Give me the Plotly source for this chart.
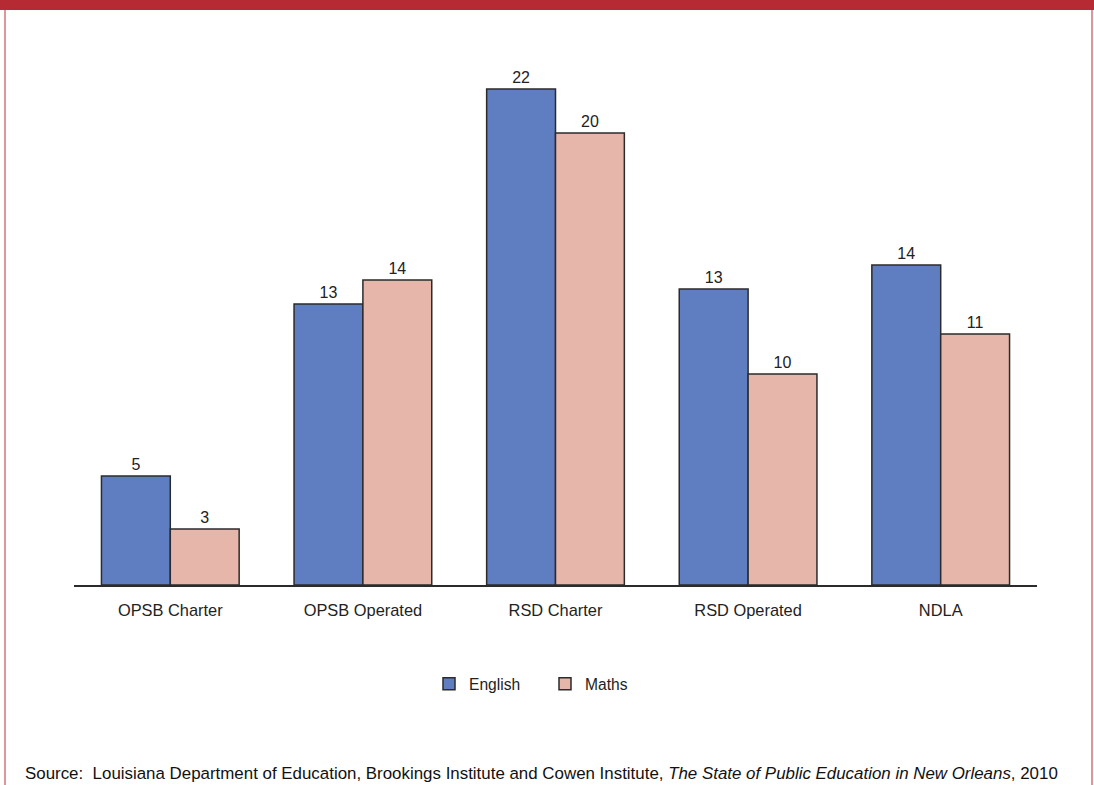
import plotly.graph_objects as go

categories = ["OPSB Charter", "OPSB Operated", "RSD Charter", "RSD Operated", "NDLA"]
english_values = [4.83, 12.46, 22.0, 13.13, 14.19]
maths_values = [2.48, 13.53, 20.04, 9.36, 11.13]
english_labels = ["5", "13", "22", "13", "14"]
maths_labels = ["3", "14", "20", "10", "11"]

W, H = 1094, 785
L, R, T, B = 74, 57, 60, 200
plot_h = H - T - B
plot_w = W - L - R
unit_px = 22.55
y_max = plot_h / unit_px

def px_x(p):
    return (p - L) / plot_w

def px_y(p):
    return (H - B - p) / plot_h

FONT = "Liberation Sans, Arial, Helvetica, sans-serif"

fig = go.Figure()
fig.add_trace(go.Bar(
    name="English", x=categories, y=english_values,
    text=english_labels, textposition="outside", cliponaxis=False,
    marker=dict(color="#5f7ec1", line=dict(color="#2b2b2b", width=1.5)),
    textfont=dict(size=16, color="#222222", family=FONT),
))
fig.add_trace(go.Bar(
    name="Maths", x=categories, y=maths_values,
    text=maths_labels, textposition="outside", cliponaxis=False,
    marker=dict(color="#e7b6ab", line=dict(color="#2b2b2b", width=1.5)),
    textfont=dict(size=16, color="#222222", family=FONT),
))

shapes = [
    dict(type="rect", xref="paper", yref="paper",
         x0=px_x(0), x1=px_x(W), y0=px_y(10), y1=px_y(0),
         fillcolor="#b52a33", line=dict(width=0), layer="above"),
    dict(type="line", xref="paper", yref="paper",
         x0=px_x(5), x1=px_x(5), y0=px_y(10), y1=px_y(H),
         line=dict(color="#d8707c", width=1.5)),
    dict(type="line", xref="paper", yref="paper",
         x0=px_x(1092), x1=px_x(1092), y0=px_y(10), y1=px_y(H),
         line=dict(color="#d8707c", width=1.5)),
]

fig.update_layout(
    width=W, height=H,
    margin=dict(l=L, r=R, t=T, b=B),
    paper_bgcolor="white", plot_bgcolor="white",
    barmode="group", bargap=0.285, bargroupgap=0,
    font=dict(family=FONT, size=16, color="#222222"),
    showlegend=True,
    legend=dict(orientation="h", x=px_x(545), xanchor="center",
                y=px_y(684), yanchor="middle",
                font=dict(size=15.6, color="#222222"),
                entrywidth=71, entrywidthmode="pixels",
                traceorder="normal"),
    xaxis=dict(showline=True, linecolor="#2b2b2b", linewidth=1.5,
               ticks="", showgrid=False, zeroline=False,
               tickfont=dict(size=16.4, color="#222222"),
               ticklabelstandoff=10),
    yaxis=dict(range=[0, y_max], visible=False, showgrid=False, zeroline=False),
    shapes=shapes,
    annotations=[dict(
        xref="paper", yref="paper", x=px_x(23), y=px_y(774),
        xanchor="left", yanchor="middle", showarrow=False,
        text="Source:  Louisiana Department of Education, Brookings Institute and Cowen Institute, "
             "<i>The State of Public Education in New Orleans</i>, 2010",
        font=dict(size=16.9, color="#111111", family=FONT),
    )],
)

fig.write_html("out.html", config={"displayModeBar": False},
               post_script="document.body.style.margin='0';document.body.style.overflow='hidden';")
